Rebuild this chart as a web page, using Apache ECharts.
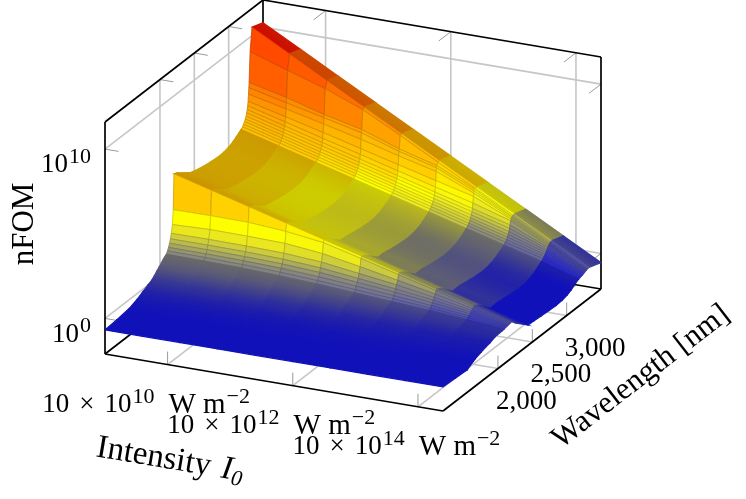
<!DOCTYPE html>
<html>
<head>
<meta charset="utf-8">
<title>nFOM surface</title>
<script src="https://cdn.jsdelivr.net/npm/echarts@6/dist/echarts.min.js"></script>
<style>
  html, body { margin: 0; padding: 0; background: #fff; }
  #chart { width: 746px; height: 499px; }
</style>
</head>
<body>
<div id="chart"></div>
<script>
// log10 of the intensity at each mesh column
const intensityExponents = [9, 9.6, 10.2, 10.8, 11.4, 12, 12.6, 13.2, 13.8, 14.4];

// wavelength of each mesh row in nm, far side first
const wavelengths = [
  3500, 3340, 3312, 3298, 3294, 3289, 3283, 3277, 3270, 3262, 3253, 3242, 3231, 3216, 3202,
  3180, 3151, 3107, 3063, 3005, 2932, 2845, 2743, 2627, 2525, 2437, 2263,
  2204, 2193, 2181, 2165, 2152, 2139, 2124, 2110, 2092, 2052, 2022, 1990, 1955, 1920, 1884,
  1826, 1753, 1666, 1549, 1375, 1200
];

// log10(nFOM), one line per wavelength, one value per intensity
const nfomExponents = [
  [10.26, 9.06, 7.86, 6.66, 5.46, 4.26, 3.06, 1.86, 0.66, -0.54],
  [10.5, 9.3, 8.1, 6.9, 5.7, 4.5, 3.3, 2.1, 0.9, -0.3],
  [9.14, 8.4, 7.7, 6.83, 5.68, 4.48, 3.3, 2.1, 0.9, -0.3],
  [7.36, 6.84, 6.21, 5.7, 4.93, 4.32, 3.3, 2.08, 0.88, -0.31],
  [7.07, 6.54, 6.04, 5.52, 4.8, 4.2, 3.2, 2.05, 0.86, -0.32],
  [6.7, 6.2, 5.68, 5.15, 4.55, 4.0, 3.1, 2.0, 0.82, -0.33],
  [6.3, 5.75, 5.2, 4.62, 4.05, 3.48, 2.92, 1.95, 0.8, -0.34],
  [6.05, 5.47, 4.87, 4.3, 3.7, 3.12, 2.55, 1.88, 0.76, -0.35],
  [5.85, 5.25, 4.65, 4.05, 3.45, 2.85, 2.25, 1.65, 0.7, -0.36],
  [5.68, 5.08, 4.48, 3.88, 3.28, 2.68, 2.08, 1.48, 0.62, -0.38],
  [5.52, 4.92, 4.32, 3.72, 3.12, 2.52, 1.92, 1.32, 0.55, -0.4],
  [5.38, 4.78, 4.18, 3.58, 2.98, 2.38, 1.78, 1.18, 0.48, -0.42],
  [5.26, 4.66, 4.06, 3.46, 2.86, 2.26, 1.66, 1.06, 0.4, -0.44],
  [5.15, 4.55, 3.95, 3.35, 2.75, 2.15, 1.55, 0.95, 0.33, -0.46],
  [5.05, 4.45, 3.85, 3.25, 2.65, 2.05, 1.45, 0.85, 0.25, -0.48],
  [4.95, 4.35, 3.75, 3.15, 2.55, 1.95, 1.35, 0.75, 0.16, -0.5],
  [4.85, 4.25, 3.65, 3.05, 2.45, 1.85, 1.25, 0.65, 0.07, -0.53],
  [4.72, 4.12, 3.52, 2.92, 2.32, 1.72, 1.12, 0.52, -0.06, -0.66],
  [4.6, 4.0, 3.4, 2.8, 2.2, 1.6, 1.0, 0.4, -0.2, -0.8],
  [4.48, 3.88, 3.28, 2.68, 2.08, 1.48, 0.88, 0.28, -0.32, -0.92],
  [4.4, 3.8, 3.2, 2.6, 2.0, 1.4, 0.8, 0.2, -0.4, -1.0],
  [4.38, 3.78, 3.18, 2.58, 1.98, 1.38, 0.78, 0.18, -0.42, -1.03],
  [4.42, 3.82, 3.22, 2.62, 2.02, 1.42, 0.82, 0.22, -0.38, -1.0],
  [4.5, 3.9, 3.3, 2.7, 2.1, 1.5, 0.9, 0.3, -0.3, -0.96],
  [4.6, 4.0, 3.4, 2.8, 2.2, 1.6, 1.0, 0.38, -0.24, -0.92],
  [4.73, 4.1, 3.48, 2.85, 2.23, 1.6, 0.98, 0.35, -0.28, -0.9],
  [5.27, 4.67, 4.07, 3.47, 2.87, 2.27, 1.67, 1.07, 0.45, -0.25],
  [5.4, 4.8, 4.2, 3.6, 3.0, 2.4, 1.8, 1.2, 0.6, 0.03],
  [3.31, 3.33, 3.31, 3.15, 2.86, 2.3, 1.72, 1.15, 0.56, 0.02],
  [2.47, 2.55, 2.53, 2.48, 2.25, 1.85, 1.42, 0.98, 0.5, 0.01],
  [2.0, 2.02, 2.0, 1.95, 1.8, 1.5, 1.2, 0.84, 0.44, 0],
  [1.72, 1.72, 1.7, 1.64, 1.5, 1.25, 1.0, 0.72, 0.38, -0.01],
  [1.5, 1.49, 1.46, 1.4, 1.27, 1.06, 0.85, 0.6, 0.32, -0.02],
  [1.3, 1.29, 1.26, 1.19, 1.06, 0.88, 0.7, 0.48, 0.25, -0.03],
  [1.14, 1.12, 1.08, 1.0, 0.88, 0.72, 0.56, 0.38, 0.18, -0.04],
  [0.99, 0.97, 0.93, 0.85, 0.74, 0.6, 0.45, 0.3, 0.13, -0.05],
  [0.85, 0.82, 0.78, 0.7, 0.6, 0.48, 0.36, 0.22, 0.08, -0.06],
  [0.72, 0.7, 0.66, 0.58, 0.49, 0.39, 0.28, 0.16, 0.04, -0.07],
  [0.58, 0.56, 0.52, 0.45, 0.37, 0.28, 0.19, 0.09, 0, -0.08],
  [0.44, 0.42, 0.38, 0.32, 0.25, 0.17, 0.09, 0.01, -0.05, -0.1],
  [0.28, 0.26, 0.22, 0.17, 0.11, 0.05, -0.02, -0.08, -0.12, -0.15],
  [0.14, 0.12, 0.09, 0.05, 0, -0.05, -0.1, -0.15, -0.19, -0.22],
  [0.02, 0, -0.03, -0.06, -0.1, -0.14, -0.17, -0.21, -0.24, -0.27],
  [-0.14, -0.16, -0.18, -0.2, -0.23, -0.26, -0.29, -0.32, -0.35, -0.37],
  [-0.34, -0.35, -0.36, -0.38, -0.4, -0.42, -0.44, -0.46, -0.48, -0.5],
  [-0.52, -0.53, -0.54, -0.56, -0.58, -0.6, -0.63, -0.67, -0.72, -0.77],
  [-0.62, -0.62, -0.63, -0.64, -0.65, -0.66, -0.67, -0.68, -0.7, -0.72],
  [-0.68, -0.68, -0.68, -0.68, -0.68, -0.68, -0.68, -0.68, -0.68, -0.68]
];

const intensityTicks = [10, 12, 14];
const wavelengthTicks = [2000, 2500, 3000];
const wavelengthTickLabels = ['2,000', '2,500', '3,000'];
const nfomTicks = [0, 10];

// axis ranges of the box
const iMin = 9, iMax = 14.4, wMin = 1200, wMax = 3500, nMin = -2.1, nMax = 11.6;

// colormap, [log10 nFOM, r, g, b]
const colormap = [
  [-0.5, 21, 21, 231], [-0.2, 35, 35, 215], [0.2, 75, 75, 180], [0.6, 112, 112, 150],
  [1.1, 138, 138, 125], [1.7, 195, 195, 70], [2.3, 238, 234, 28], [2.9, 255, 255, 0],
  [3.5, 255, 225, 0], [4.1, 255, 202, 0], [5, 255, 185, 0], [5.7, 255, 165, 0],
  [6.6, 255, 133, 0], [7.3, 255, 112, 0], [7.9, 255, 95, 0], [9.3, 255, 80, 0],
  [9.6, 255, 30, 0], [10, 255, 10, 0]
];

function mapColor(v, k) {
  let rgb = colormap[colormap.length - 1].slice(1);
  if (v <= colormap[0][0]) rgb = colormap[0].slice(1);
  for (let i = 0; i < colormap.length - 1; i++) {
    const a = colormap[i], b = colormap[i + 1];
    if (v >= a[0] && v <= b[0]) {
      const f = (v - a[0]) / (b[0] - a[0]);
      rgb = [1, 2, 3].map(j => a[j] + (b[j] - a[j]) * f);
    }
  }
  return 'rgb(' + rgb.map(x => Math.round(x * k)).join(',') + ')';
}

// box corners on the page: oblique view, no perspective
function project(i, w, n) {
  const xf = (i - iMin) / (iMax - iMin);
  const yf = (w - wMin) / (wMax - wMin);
  const zf = (n - nMin) / (nMax - nMin);
  return [105 + 338 * xf + 158 * yf, 354 + 57 * xf - 122 * yf - 232 * zf];
}

// frame: grid lines first, then ticks, then the black box
const gridSegs = [], tickSegs = [], boxSegs = [];
const iTick = (iMax - iMin) * 0.04, wTick = (wMax - wMin) * 0.076, nTick = (nMax - nMin) * 0.056;

nfomTicks.forEach(n => {
  gridSegs.push([[iMin, wMin, n], [iMin, wMax, n]], [[iMin, wMax, n], [iMax, wMax, n]]);
  tickSegs.push([[iMin, wMin, n], [iMin + iTick, wMin, n]], [[iMax, wMax, n], [iMax, wMax - wTick, n]]);
});
wavelengthTicks.forEach(w => {
  gridSegs.push([[iMin, w, nMin], [iMin, w, nMax]], [[iMin, w, nMin], [iMax, w, nMin]]);
  tickSegs.push([[iMin, w, nMax], [iMin + iTick, w, nMax]], [[iMax, w, nMin], [iMax, w, nMin + nTick]]);
});
intensityTicks.forEach(i => {
  gridSegs.push([[i, wMax, nMin], [i, wMax, nMax]], [[i, wMin, nMin], [i, wMax, nMin]]);
  tickSegs.push([[i, wMax, nMax], [i, wMax - wTick, nMax]], [[i, wMin, nMin], [i, wMin, nMin + nTick]]);
});
boxSegs.push(
  [[iMin, wMin, nMin], [iMax, wMin, nMin]], [[iMax, wMin, nMin], [iMax, wMax, nMin]],
  [[iMax, wMax, nMin], [iMin, wMax, nMin]], [[iMin, wMax, nMin], [iMin, wMin, nMin]],
  [[iMin, wMin, nMax], [iMin, wMax, nMax]], [[iMin, wMax, nMax], [iMax, wMax, nMax]],
  [[iMin, wMin, nMin], [iMin, wMin, nMax]], [[iMax, wMax, nMin], [iMax, wMax, nMax]],
  [[iMin, wMax, nMin], [iMin, wMax, nMax]]
);

const frameSegs = []
  .concat(gridSegs.map(s => ({ s: s, color: '#c6c6c6', width: 1.6 })))
  .concat(tickSegs.map(s => ({ s: s, color: '#9a9a9a', width: 1 })))
  .concat(boxSegs.map(s => ({ s: s, color: '#000', width: 1.7 })));

function renderFrame(params, api) {
  const f = frameSegs[params.dataIndex];
  const a = api.coord(project(f.s[0][0], f.s[0][1], f.s[0][2]));
  const b = api.coord(project(f.s[1][0], f.s[1][1], f.s[1][2]));
  return {
    type: 'line',
    shape: { x1: a[0], y1: a[1], x2: b[0], y2: b[1] },
    style: { stroke: f.color, lineWidth: f.width, fill: null }
  };
}

// surface cells, far row first, low intensity first, so nearer cells paint over
const cells = [];
for (let r = 0; r < wavelengths.length - 1; r++) {
  for (let c = 0; c < intensityExponents.length - 1; c++) cells.push([r, c]);
}

function renderCell(params, api) {
  const r = api.value(0), c = api.value(1);
  const corner = (rr, cc) => api.coord(project(intensityExponents[cc], wavelengths[rr], nfomExponents[rr][cc]));
  const p = [corner(r, c), corner(r, c + 1), corner(r + 1, c + 1), corner(r + 1, c)];
  const zFar = (nfomExponents[r][c] + nfomExponents[r][c + 1]) / 2;
  const zNear = (nfomExponents[r + 1][c] + nfomExponents[r + 1][c + 1]) / 2;
  let style;
  if (wavelengths[r] - wavelengths[r + 1] < 29) {
    // the few rows wide enough to show their own face and mesh line
    style = { fill: mapColor((zFar + zNear) / 2, 1), stroke: mapColor((zFar + zNear) / 2, 0.8), lineWidth: 0.8 };
  } else {
    // dense rows: mesh lines cover the faces
    const ex = p[1][0] - p[0][0], ey = p[1][1] - p[0][1];
    const len = Math.hypot(ex, ey) || 1;
    const nx = -ey / len, ny = ex / len;
    const mx = (p[0][0] + p[1][0]) / 2, my = (p[0][1] + p[1][1]) / 2;
    const dx = (p[3][0] + p[2][0]) / 2 - mx, dy = (p[3][1] + p[2][1]) / 2 - my;
    const d = dx * nx + dy * ny;
    const grad = new echarts.graphic.LinearGradient(mx, my, mx + nx * d, my + ny * d, [
      { offset: 0, color: mapColor(zFar, 0.8) },
      { offset: 1, color: mapColor(zNear, 0.8) }
    ], true);
    style = { fill: grad, stroke: grad, lineWidth: 1.2 };
  }
  return { type: 'polygon', shape: { points: p }, style: style };
}

const serif = '"Liberation Serif", serif';
const rich = {
  a: { fontFamily: serif, fontSize: 27, lineHeight: 38, fill: '#000' },
  x: { fontFamily: serif, fontSize: 27, lineHeight: 38, fill: '#000', padding: [0, 10, 0, 10] },
  w: { fontFamily: serif, fontSize: 29, lineHeight: 38, fill: '#000', padding: [0, 0, 0, 12] },
  s: { fontFamily: serif, fontSize: 22, lineHeight: 22, verticalAlign: 'top', fill: '#000', padding: [0, 2, 0, 1] },
  t: { fontFamily: serif, fontSize: 31, lineHeight: 38, fill: '#000' },
  n: { fontFamily: serif, fontSize: 33, lineHeight: 38, fill: '#000' },
  i: { fontFamily: serif, fontSize: 33, fontStyle: 'italic', lineHeight: 38, fill: '#000', padding: [0, 0, 0, 11] },
  u: { fontFamily: serif, fontSize: 22, fontStyle: 'italic', lineHeight: 22, verticalAlign: 'bottom', fill: '#000' }
};

function label(text, x, y, opt) {
  opt = opt || {};
  return {
    type: 'text', x: x, y: y, rotation: opt.rotation || 0,
    style: {
      text: text, rich: rich, fontFamily: serif, fontSize: 27, fill: '#000',
      align: opt.align || 'center', verticalAlign: 'middle'
    }
  };
}

const texts = [];
intensityTicks.forEach(i => {
  const p = project(i, wMin, nMin);
  texts.push(label('{a|10}{x|×}{a|10}{s|' + i + '}{w|W m}{s|−2}', p[0] - 20.5, p[1] + 40.5));
});
wavelengthTicks.forEach((w, k) => {
  const p = project(iMax, w, nMin);
  texts.push(label('{a|' + wavelengthTickLabels[k] + '}', p[0] + 28.5, p[1] + 33));
});
nfomTicks.forEach(n => {
  const p = project(iMin, wMin, n);
  texts.push(label('{a|10}{s|' + n + '}', p[0] - 12, p[1] + 16, { align: 'right' }));
});
texts.push(label('{t|nFOM}', 25, 224, { rotation: Math.PI / 2 }));
texts.push(label('{t|Wavelength [nm]}', 641, 377, { rotation: 37.7 * Math.PI / 180 }));
texts.push(label('{n|Intensity}{i|I}{u|0}', 170, 460, { rotation: -9.6 * Math.PI / 180 }));

const myChart = echarts.init(document.getElementById('chart'), null, { renderer: 'canvas' });
myChart.setOption({
  animation: false,
  tooltip: { show: false },
  grid: { left: 0, right: 0, top: 0, bottom: 0 },
  xAxis: { type: 'value', min: 0, max: 746, show: false },
  yAxis: { type: 'value', min: 0, max: 499, inverse: true, show: false },
  graphic: { elements: texts },
  series: [
    {
      type: 'custom', coordinateSystem: 'cartesian2d', clip: false, silent: true, z: 1,
      renderItem: renderFrame,
      data: frameSegs.map((f, i) => [i])
    },
    {
      type: 'custom', coordinateSystem: 'cartesian2d', clip: false, silent: true, z: 2,
      renderItem: renderCell,
      data: cells
    }
  ]
});
</script>
</body>
</html>
